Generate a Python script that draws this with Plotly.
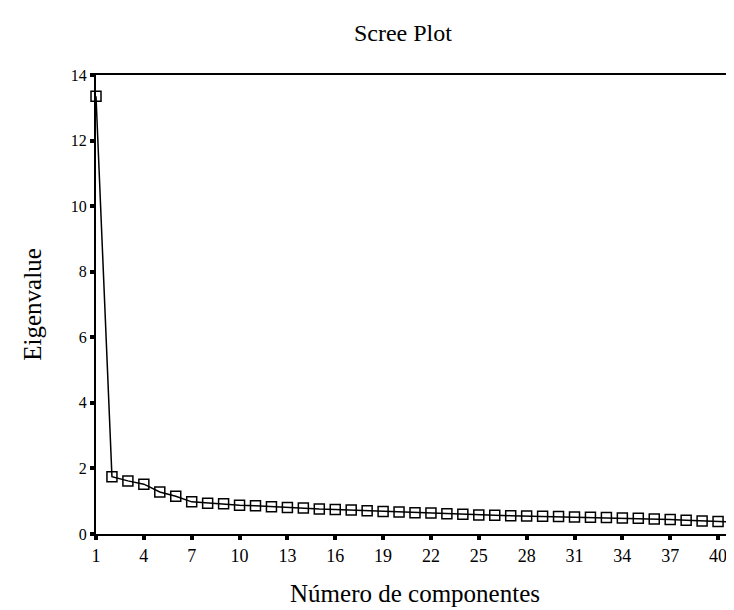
import plotly.graph_objects as go

components = list(range(1, 42))
eigenvalues = [13.35, 1.75, 1.62, 1.52, 1.28, 1.15, 0.98, 0.94, 0.92, 0.88,
               0.86, 0.83, 0.81, 0.79, 0.76, 0.75, 0.73, 0.71, 0.69, 0.67,
               0.65, 0.64, 0.62, 0.60, 0.58, 0.57, 0.56, 0.55, 0.54, 0.53,
               0.52, 0.51, 0.50, 0.49, 0.48, 0.46, 0.44, 0.42, 0.40, 0.38, 0.36]
x_ticks = [1, 4, 7, 10, 13, 16, 19, 22, 25, 28, 31, 34, 37, 40]
y_ticks = [0, 2, 4, 6, 8, 10, 12, 14]

font = "Liberation Serif"

fig = go.Figure(go.Scatter(
    x=components, y=eigenvalues, mode="lines+markers",
    line=dict(color="black", width=1.5),
    marker=dict(symbol="square-open", size=10, color="black", line=dict(width=1.5)),
    cliponaxis=False,
))

fig.update_layout(
    width=734, height=610,
    paper_bgcolor="white", plot_bgcolor="white",
    margin=dict(l=88, r=6, t=67, b=84),
    showlegend=False,
    title=dict(text="Scree Plot", x=0.538, xanchor="center", y=1 - 25 / 610,
               yanchor="middle",
               font=dict(family=font, size=24, color="black")),
    font=dict(family=font, color="black"),
)
fig.update_xaxes(
    range=[1, 41], tickvals=x_ticks, ticktext=[str(v) for v in x_ticks],
    showline=True, linecolor="black", linewidth=2, mirror=True,
    ticks="outside", ticklen=4, tickwidth=4, tickcolor="black",
    showgrid=False, zeroline=False,
    tickfont=dict(family=font, size=18, color="black"),
    title=dict(text="Número de componentes", standoff=20,
               font=dict(family=font, size=25, color="black")),
)
fig.update_yaxes(
    range=[0, 14], tickvals=y_ticks, ticktext=[str(v) for v in y_ticks],
    showline=True, linecolor="black", linewidth=2, mirror=True,
    ticks="outside", ticklen=4, tickwidth=4, tickcolor="black",
    showgrid=False, zeroline=False,
    tickfont=dict(family=font, size=16, color="black"),
    title=dict(text="Eigenvalue", standoff=22,
               font=dict(family=font, size=25, color="black")),
)

fig.write_html("out.html")
